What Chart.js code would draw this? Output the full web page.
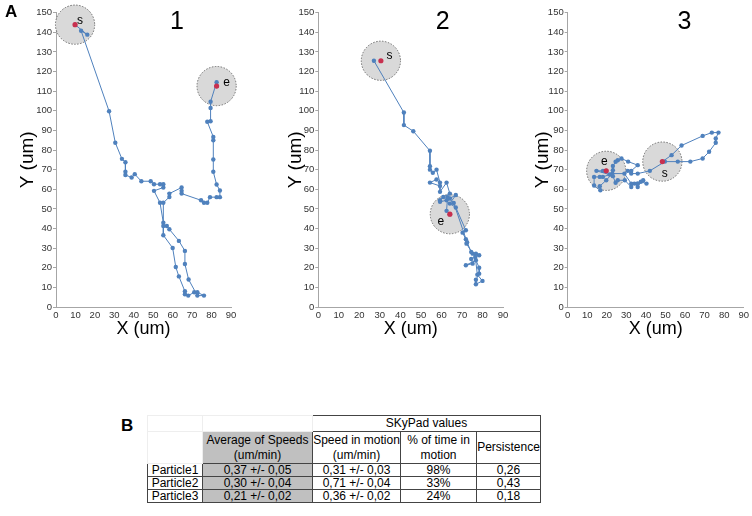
<!DOCTYPE html>
<html>
<head>
<meta charset="utf-8">
<script src="https://cdn.jsdelivr.net/npm/chart.js@4.4.1/dist/chart.umd.min.js"></script>
<style>
  body { margin: 0; background: #fff; font-family: "Liberation Sans", Arial, sans-serif; }
  #wrap { position: relative; width: 752px; height: 516px; overflow: hidden; }
  canvas { position: absolute; top: 0; }
  .panel { position: absolute; font-weight: bold; font-size: 17px; color: #000; }
  table { position: absolute; left: 147px; top: 415px; width: 393px; table-layout: fixed;
          border-collapse: collapse; font-size: 12px; color: #000; }
  td { border: 1px solid #444; text-align: center; padding: 0; line-height: 12px; height: 11px;
       white-space: nowrap; overflow: visible; }
  td.blank { border-color: #eee; }
  td.avg { background: #c0c0c0; }
  tr.head1 td { height: 15px; line-height: 15px; }
  tr.head2 td { height: 31px; line-height: 15px; }
</style>
</head>
<body>
<div id="wrap">
  <canvas id="c1" width="250" height="340" style="left:0px"></canvas>
  <canvas id="c2" width="270" height="340" style="left:250px"></canvas>
  <canvas id="c3" width="252" height="340" style="left:500px"></canvas>
  <div class="panel" style="left:5px;top:2px">A</div>
  <div class="panel" style="left:121px;top:416px">B</div>
  <table id="tbl"></table>
</div>
<script>
'use strict';

// trajectories, [x, y] in um
const track1 = [[9.8,143.9],[16.1,138.8],[12.9,140.8],[27.3,99.8],[30.5,83.7],[33.9,75.5],[35.7,73.8],[35.7,68.9],
  [35.7,67.3],[38.9,66],[40.5,67.7],[43.9,64.1],[48.7,64.1],[50.4,62.6],[53.5,62.6],[55.2,62.6],[55.2,60.9],
  [50.4,59.2],[53.5,53.1],[55.2,43],[55.2,36.6],[60,30.1],[61.6,20.4],[63.2,15.6],[66.3,8],[66.3,6.5],[68,5.8],
  [71.1,7.5],[72.7,7.5],[76.1,5.8],[72.7,5.8],[68.2,14],[66.3,21.9],[66.3,28.6],[63.2,33.7],[58.3,39.6],[57,41.3],
  [55.2,41.3],[55.2,53.1],[58.3,56.1],[58.3,57.8],[64.6,60.9],[64.6,59.2],[64.6,57.8],[74.6,54.4],[76.1,53.1],
  [77.8,53.1],[79.2,56],[82.6,56],[84.3,56],[84.3,59.4],[82.6,62.4],[80.9,68.9],[80.9,75.2],[80.9,85],[80.9,86.7],
  [77.8,94.4],[79.5,94.7],[79.5,101.4],[79.5,104.6],[82.6,114.6],[82.6,112.6]];

const track2 = [[27.1,125.5],[41.7,99.1],[41.7,92.7],[46.3,89.6],[54.4,79.6],[54.4,71.8],[54.4,70],[55.8,68.4],
  [57.6,70],[59.3,63.4],[57.6,65],[54.4,63.4],[59.3,61.7],[59.3,58.7],[62.5,63.4],[64.1,57.8],[60.9,56.1],
  [59.3,54.4],[59.3,53.6],[62.5,54.4],[64.1,55.3],[67,57.1],[64.1,52.7],[67,50.7],[71.9,39.1],[70.3,37.9],
  [71.9,34.5],[72.2,32.3],[75.2,27.2],[76.8,27.2],[78.4,26.4],[74.5,24.5],[75.2,22.1],[71.9,21.3],[76.8,23.8],
  [78.4,20],[78.4,17],[76.8,13.9],[76.8,11.6],[80,13.3],[77.5,16.5],[76.5,25.5],[74.5,28],[72.5,33],[66,53],
  [63,56],[62.5,49],[64.1,47.3]];

const track3 = [[48.4,74.1],[53.1,77.4],[58.2,82.3],[69,87.2],[73.7,88.9],[77.1,88.9],[75.7,85.9],[75.7,83.7],
  [72.3,79.1],[69,75.7],[62.7,74.1],[56.3,74.1],[49.7,74.1],[42,69.4],[35.8,68],[32.5,68],[30.7,69.4],[32.5,69.4],
  [35.8,72.3],[30.9,74.1],[27.5,75.7],[25.6,74.8],[24.5,74],[23.1,71.9],[23.1,69.7],[23.1,66.7],[24.5,63.3],
  [25.6,64.6],[29.2,64.6],[32.5,61.2],[34.1,62.9],[35.8,61.2],[37.4,63.8],[40.3,62.9],[38.6,64.6],[35.8,63],
  [32.5,62.9],[29,68],[22.8,68],[19.7,64.6],[16.4,61.6],[16.7,59.5],[13.5,61.9],[13.5,66.3],[16.4,66.3],[18,66.3],
  [21.4,67.5],[14.7,69.4],[18,69.4],[19.7,69.4]];

// start / end positions (red), centres of the grey zones
const ends1 = [[9.8,143.9],[82.6,112.6]];
const ends2 = [[30.5,125.5],[64.1,47.3]];
const ends3 = [[48.4,74.1],[19.7,69.4]];
const endNames = ['s', 'e'];

const xTicks = [0, 90, 10];   // min, max, step
const yTicks = [0, 150, 10];

// table B
const particles = ['Particle1', 'Particle2', 'Particle3'];
const avgSpeeds = ['0,37 +/- 0,05', '0,30 +/- 0,04', '0,21 +/- 0,02'];
const motionSpeeds = ['0,31 +/- 0,03', '0,71 +/- 0,04', '0,36 +/- 0,02'];
const timeInMotion = ['98%', '33%', '24%'];
const persistence = ['0,26', '0,43', '0,18'];

const BLUE = '#4f81bd';
const RED = '#c8304f';
const FONT = '"Liberation Sans", Arial, sans-serif';

const zonePlugin = {
    id: 'zones',
    beforeDatasetsDraw(chart, args, opts) {
        const c = chart.ctx, x = chart.scales.x, y = chart.scales.y;
        const r = Math.abs(y.getPixelForValue(0) - y.getPixelForValue(opts.radius));
        c.save();
        opts.centres.forEach(p => {
            c.beginPath();
            c.arc(x.getPixelForValue(p[0]), y.getPixelForValue(p[1]), r, 0, Math.PI * 2);
            c.fillStyle = '#d9d9d9';
            c.fill();
            c.setLineDash([1.5, 1.5]);
            c.lineWidth = 1;
            c.strokeStyle = '#6e6e6e';
            c.stroke();
        });
        c.restore();
    },
    afterDatasetsDraw(chart, args, opts) {
        const c = chart.ctx, x = chart.scales.x, y = chart.scales.y;
        c.save();
        c.fillStyle = '#000';
        c.textAlign = 'center';
        c.textBaseline = 'middle';
        c.font = '12px ' + FONT;
        opts.centres.forEach((p, i) => {
            c.fillText(endNames[i], x.getPixelForValue(p[0]) + opts.offsets[i][0],
                y.getPixelForValue(p[1]) + opts.offsets[i][1]);
        });
        c.font = '25px ' + FONT;
        c.fillText(opts.caption, x.getPixelForValue(opts.captionAt[0]), y.getPixelForValue(opts.captionAt[1]));
        c.restore();
    }
};

function makeChart(id, track, ends, pad, yWidth, offsets, caption, captionAt) {
    const axisColor = '#a6a6a6';
    return new Chart(document.getElementById(id), {
        type: 'scatter',
        data: {
            datasets: [{
                data: ends.map(p => ({x: p[0], y: p[1]})),
                showLine: false,
                pointRadius: 2.6,
                pointBorderWidth: 0,
                pointBackgroundColor: RED
            }, {
                data: track.map(p => ({x: p[0], y: p[1]})),
                showLine: true,
                borderColor: BLUE,
                borderWidth: 1,
                pointRadius: 2.2,
                pointBorderWidth: 0,
                pointBackgroundColor: BLUE
            }]
        },
        plugins: [zonePlugin],
        options: {
            responsive: false,
            animation: false,
            devicePixelRatio: 1,
            layout: { padding: { left: pad[0], right: pad[1], top: 12.7, bottom: 0 } },
            plugins: {
                legend: { display: false },
                tooltip: { enabled: false },
                zones: { centres: ends, radius: 10, offsets: offsets, caption: caption, captionAt: captionAt }
            },
            scales: {
                x: {
                    type: 'linear',
                    min: xTicks[0], max: xTicks[1],
                    ticks: { stepSize: xTicks[2], autoSkip: false, maxRotation: 0, padding: 3,
                        color: '#333', font: { family: FONT, size: 9.5 } },
                    grid: { drawOnChartArea: false, drawTicks: false, color: axisColor },
                    border: { color: axisColor },
                    title: { display: true, text: 'X (um)', color: '#000', padding: 0,
                        font: { family: FONT, size: 18 } },
                    afterFit(s) { s.height = 33; }
                },
                y: {
                    min: yTicks[0], max: yTicks[1],
                    ticks: { stepSize: yTicks[2], autoSkip: false, padding: 1,
                        color: '#333', font: { family: FONT, size: 9.5 } },
                    grid: { drawOnChartArea: false, tickLength: 3, color: axisColor },
                    border: { color: axisColor },
                    title: { display: true, text: 'Y (um)', color: '#000', padding: 0,
                        font: { family: FONT, size: 19 } },
                    afterFit(s) { s.width = yWidth; }
                }
            }
        }
    });
}

makeChart('c1', track1, ends1, [16, 19], 40, [[5, -4], [10, -3]], '1', [62.2, 145.4]);
makeChart('c2', track2, ends2, [34, 17], 34.3, [[8.6, -5], [-9, 7]], '2', [60.6, 145.4]);
makeChart('c3', track3, ends3, [31, 6.3], 36.7, [[2.5, 12], [-2, -9]], '3', [59.7, 145.4]);

// table B
const tbl = document.getElementById('tbl');
let html = '<colgroup><col style="width:55px"><col style="width:110px"><col style="width:88px">' +
    '<col style="width:76px"><col style="width:64px"></colgroup>';
html += '<tr class="head1"><td class="blank"></td><td class="blank"></td><td colspan="3">SKyPad values</td></tr>';
html += '<tr class="head2"><td class="blank"></td><td class="avg">Average of Speeds<br>(um/min)</td>' +
    '<td>Speed in motion<br>(um/min)</td><td>% of time in<br>motion</td><td>Persistence</td></tr>';
particles.forEach((p, i) => {
    html += '<tr><td>' + p + '</td><td class="avg">' + avgSpeeds[i] + '</td><td>' + motionSpeeds[i] +
        '</td><td>' + timeInMotion[i] + '</td><td>' + persistence[i] + '</td></tr>';
});
tbl.innerHTML = html;
</script>
</body>
</html>
